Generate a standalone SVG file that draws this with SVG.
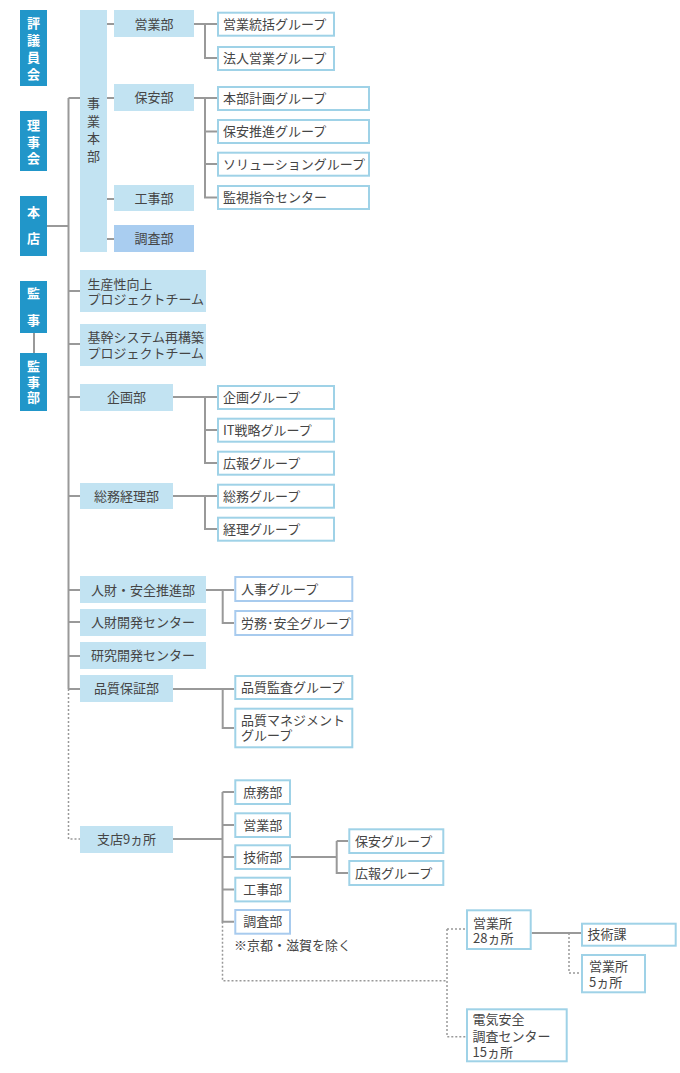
<svg xmlns="http://www.w3.org/2000/svg" width="680" height="1073" viewBox="0 0 680 1073">
<style>
text{font-family:"Noto Sans CJK JP","Noto Sans",sans-serif;font-size:13px;fill:#454545}
.dk rect{fill:#2196c9}
.dk text{fill:#fff;font-weight:bold;text-anchor:middle;font-size:13px}
.fl{fill:#c2e3f2}
.fl2{fill:#a9cdf0}
.ol{fill:#fff;stroke:#9fd2e7;stroke-width:2}
.ol2{fill:#fff;stroke:#a8cbee;stroke-width:2}
.c{text-anchor:middle}
.ln path{fill:none;stroke:#999;stroke-width:2}
.ln path.dot{stroke-width:1.5;stroke-dasharray:2 2}
</style>
<rect width="680" height="1073" fill="#fff"/>
<g class="ln" id="connectors">
<path d="M47 226H68.5"/>
<path d="M34 333V353"/>
<path d="M68.5 98V689"/>
<path d="M68.5 98H80M68.5 291H80M68.5 344H80M68.5 397H80M68.5 496H80M68.5 590H80M68.5 622H80M68.5 656H80M68.5 689H80"/>
<path class="dot" d="M68.5 689V839H80"/>
<path d="M107 24H114M107 98H114M107 199H114M107 239H114"/>
<path d="M194 24H217M205 24V58H217"/>
<path d="M194 98H217M205 98V197.5H217M205 131.5H217M205 164H217"/>
<path d="M173 397H217M205 397V463H217M205 430H217"/>
<path d="M173 496H217M205 496V529H217"/>
<path d="M206 590H234M222.7 590V623H234"/>
<path d="M173 689H234M222.7 689V728H234"/>
<path d="M173 839H222.5M222.5 792V921.7H234M222.5 792H234M222.5 825H234M222.5 857H234M222.5 889.5H234"/>
<path class="dot" d="M222.5 921.7V980.7H447M447 929V1036.7H466M447 929H466"/>
<path d="M291 857H336.7M336.7 841V873H348M336.7 841H348"/>
<path d="M531.7 933H581"/>
<path class="dot" d="M569 933V973H581"/>
</g>
<g class="dk" id="hyogiinkai"><rect x="20" y="10" width="27" height="76"/><text><tspan x="33.5" y="28">評</tspan><tspan x="33.5" y="45">議</tspan><tspan x="33.5" y="62">員</tspan><tspan x="33.5" y="79">会</tspan></text></g>
<g class="dk" id="rijikai"><rect x="20" y="111" width="27" height="60"/><text><tspan x="33.5" y="130">理</tspan><tspan x="33.5" y="146.5">事</tspan><tspan x="33.5" y="163">会</tspan></text></g>
<g class="dk" id="honten"><rect x="20" y="196" width="27" height="60"/><text><tspan x="33.5" y="216.5">本</tspan><tspan x="33.5" y="243">店</tspan></text></g>
<g class="dk" id="kanji"><rect x="20" y="281" width="27" height="52"/><text><tspan x="33.5" y="298">監</tspan><tspan x="33.5" y="324.5">事</tspan></text></g>
<g class="dk" id="kanjibu"><rect x="20" y="353" width="27" height="58"/><text><tspan x="33.5" y="370.5">監</tspan><tspan x="33.5" y="386.5">事</tspan><tspan x="33.5" y="402">部</tspan></text></g>
<g id="jigyohonbu"><rect class="fl" x="80" y="10" width="27" height="242"/><text class="c"><tspan x="93.5" y="108">事</tspan><tspan x="93.5" y="126">業</tspan><tspan x="93.5" y="143">本</tspan><tspan x="93.5" y="161">部</tspan></text></g>
<g id="eigyobu"><rect class="fl" x="114" y="10" width="80" height="27"/><text class="c" x="154" y="28.5">営業部</text></g>
<g id="hoanbu"><rect class="fl" x="114" y="84" width="80" height="27"/><text class="c" x="154" y="102">保安部</text></g>
<g id="kojibu"><rect class="fl" x="114" y="185" width="80" height="26"/><text class="c" x="154" y="202.5">工事部</text></g>
<g id="chosabu"><rect class="fl2" x="114" y="225" width="80" height="27"/><text class="c" x="154" y="243">調査部</text></g>
<g id="g-eigyotokatsu"><rect class="ol" x="218" y="12.7" width="116" height="23"/><text x="223" y="28.7">営業統括グループ</text></g>
<g id="g-hojin"><rect class="ol" x="218" y="47" width="116" height="23"/><text x="223" y="63">法人営業グループ</text></g>
<g id="g-honbukeikaku"><rect class="ol" x="218" y="87" width="151" height="23"/><text x="223" y="103">本部計画グループ</text></g>
<g id="g-hoansuishin"><rect class="ol" x="218" y="120" width="151" height="23"/><text x="223" y="136">保安推進グループ</text></g>
<g id="g-solution"><rect class="ol" x="218" y="152.7" width="151" height="23"/><text x="223" y="168.7">ソリューショングループ</text></g>
<g id="g-kanshi"><rect class="ol" x="218" y="186" width="151" height="23"/><text x="223" y="202">監視指令センター</text></g>
<g id="seisansei"><rect class="fl" x="80" y="270" width="126" height="42"/><text><tspan x="87.5" y="288.5">生産性向上</tspan><tspan x="87.5" y="304">プロジェクトチーム</tspan></text></g>
<g id="kikan"><rect class="fl" x="80" y="324" width="126" height="42"/><text><tspan x="87.5" y="342">基幹システム再構築</tspan><tspan x="87.5" y="357.5">プロジェクトチーム</tspan></text></g>
<g id="kikakubu"><rect class="fl" x="80" y="384" width="93" height="27"/><text class="c" x="126.5" y="402">企画部</text></g>
<g id="g-kikaku"><rect class="ol" x="218" y="386" width="116" height="23"/><text x="223" y="402">企画グループ</text></g>
<g id="g-it"><rect class="ol" x="218" y="418.7" width="116" height="23"/><text x="223" y="434.7">IT戦略グループ</text></g>
<g id="g-koho"><rect class="ol" x="218" y="451.7" width="116" height="23"/><text x="223" y="467.7">広報グループ</text></g>
<g id="somukeiri"><rect class="fl" x="80" y="483" width="93" height="26"/><text class="c" x="126.5" y="500.5">総務経理部</text></g>
<g id="g-somu"><rect class="ol" x="218" y="484.7" width="116" height="23"/><text x="223" y="500.7">総務グループ</text></g>
<g id="g-keiri"><rect class="ol" x="218" y="517.7" width="116" height="23"/><text x="223" y="533.7">経理グループ</text></g>
<g id="jinzaianzen"><rect class="fl" x="80" y="576" width="126" height="27"/><text class="c" x="143" y="594.5">人財・安全推進部</text></g>
<g id="g-jinji"><rect class="ol2" x="235.3" y="577" width="117" height="24"/><text x="241" y="593.5">人事グループ</text></g>
<g id="g-romu"><rect class="ol2" x="235.3" y="611" width="117" height="24"/><text x="241" y="627.5">労務･安全グループ</text></g>
<g id="jinzaikaihatsu"><rect class="fl" x="80" y="609" width="126" height="27"/><text class="c" x="143" y="627">人財開発センター</text></g>
<g id="kenkyukaihatsu"><rect class="fl" x="80" y="642" width="126" height="27"/><text class="c" x="143" y="660">研究開発センター</text></g>
<g id="hinshitsu"><rect class="fl" x="80" y="675" width="93" height="27"/><text class="c" x="126.5" y="693">品質保証部</text></g>
<g id="g-hinshitsukansa"><rect class="ol" x="235.3" y="676" width="117" height="23"/><text x="241" y="692">品質監査グループ</text></g>
<g id="g-management"><rect class="ol" x="235.3" y="708.7" width="117" height="38.6"/><text><tspan x="241" y="725">品質マネジメント</tspan><tspan x="241" y="739.5">グループ</tspan></text></g>
<g id="shiten"><rect class="fl" x="80" y="826" width="93" height="27"/><text class="c" x="126.5" y="844">支店9ヵ所</text></g>
<g id="b-shomu"><rect class="ol" x="235.3" y="780.3" width="54.7" height="23.7"/><text class="c" x="262.7" y="796.5">庶務部</text></g>
<g id="b-eigyo"><rect class="ol" x="235.3" y="813.3" width="54.7" height="23.7"/><text class="c" x="262.7" y="829.5">営業部</text></g>
<g id="b-gijutsu"><rect class="ol" x="235.3" y="845.3" width="54.7" height="23.7"/><text class="c" x="262.7" y="861.5">技術部</text></g>
<g id="b-koji"><rect class="ol" x="235.3" y="877.7" width="54.7" height="23.7"/><text class="c" x="262.7" y="894">工事部</text></g>
<g id="b-chosa"><rect class="ol2" x="235.3" y="910" width="54.7" height="23.7"/><text class="c" x="262.7" y="926.3">調査部</text></g>
<text x="234" y="949.5">※京都・滋賀を除く</text>
<g id="b-hoan"><rect class="ol" x="349.3" y="829.3" width="94" height="23.7"/><text x="355" y="845.5">保安グループ</text></g>
<g id="b-koho"><rect class="ol" x="349.3" y="861" width="94" height="24"/><text x="355" y="877.5">広報グループ</text></g>
<g id="eigyosho28"><rect class="ol" x="467" y="910.3" width="63.7" height="38.7"/><text><tspan x="473" y="927.5">営業所</tspan><tspan x="473" y="943">28ヵ所</tspan></text></g>
<g id="denki"><rect class="ol" x="467" y="1009.3" width="99.7" height="52"/><text><tspan x="472.5" y="1024">電気安全</tspan><tspan x="472.5" y="1040.5">調査センター</tspan><tspan x="472.5" y="1057">15ヵ所</tspan></text></g>
<g id="gijutsuka"><rect class="ol" x="582" y="923.7" width="93.7" height="22"/><text x="587.5" y="939">技術課</text></g>
<g id="eigyosho5"><rect class="ol" x="582" y="955" width="63" height="37.3"/><text><tspan x="589" y="971">営業所</tspan><tspan x="589" y="986.5">5ヵ所</tspan></text></g>
</svg>
